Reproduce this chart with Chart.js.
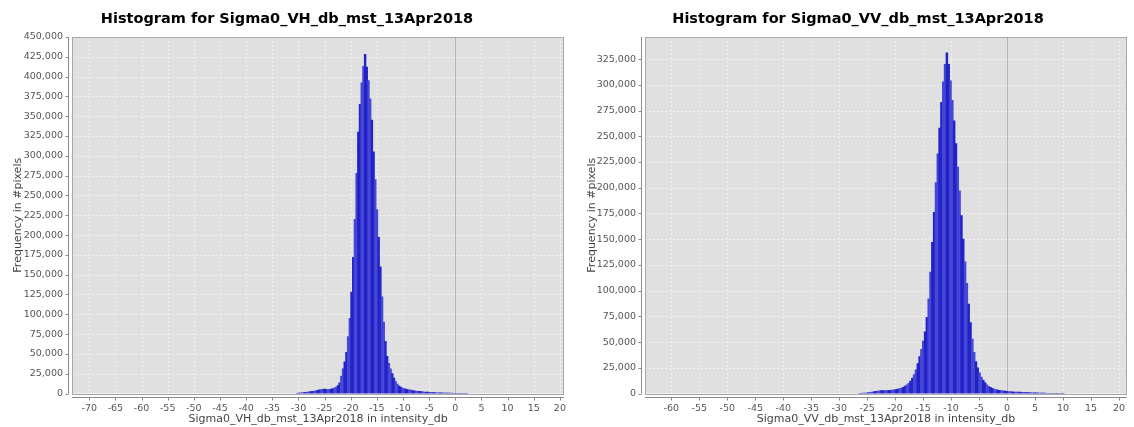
<!DOCTYPE html>
<html>
<head>
<meta charset="utf-8">
<script src="https://cdn.jsdelivr.net/npm/chart.js@4.4.1/dist/chart.umd.min.js"></script>
<style>
  body { margin: 0; background: #fff; }
  .box { position: absolute; top: 0; }
</style>
</head>
<body>
<div class="box" style="left:0px"><canvas id="vhChart" width="575" height="427"></canvas></div>
<div class="box" style="left:575px"><canvas id="vvChart" width="559" height="427"></canvas></div>
<script>
// histogram bins (dB), 0.325 dB wide, counts
const binWidth = 0.325;

const vhBinStart = -30.25;
const vhCounts = [
    300, 500, 700, 900, 1100, 1400, 1700, 2000, 2300, 2600,
    3000, 3500, 4000, 4500, 5000, 5300, 5500, 5200, 5000, 5200,
    5500, 6200, 7000, 8200, 10000, 13500, 22000, 31000, 40000, 52000,
    72000, 95000, 128000, 172000, 220000, 278000, 330000, 365000, 392000, 413000,
    428000, 412000, 395000, 372000, 345000, 305000, 270000, 232000, 197000, 160000,
    122000, 90000, 66000, 47000, 38000, 31000, 25000, 19500, 15000, 12000,
    9500, 8000, 6800, 6200, 5600, 5100, 4700, 4200, 3700, 3400,
    3100, 2800, 2600, 2300, 2100, 1950, 1800, 1650, 1500, 1350,
    1200, 1100, 1000, 950, 900, 800, 700, 650, 600, 520,
    450, 400, 350, 320, 300, 250, 200, 170, 150, 120,
    100
];

const vvBinStart = -26.35;
const vvCounts = [
    100, 200, 300, 400, 500, 800, 1100, 1450, 1800, 2100,
    2400, 2650, 2800, 2850, 2800, 2850, 3000, 3200, 3400, 3650,
    3900, 4300, 4700, 5300, 6100, 7200, 8500, 10000, 12000, 15000,
    18500, 23000, 29000, 36000, 43000, 51000, 60000, 74000, 92000, 118000,
    147000, 176000, 205000, 233000, 258000, 283000, 303000, 320000, 331000, 320000,
    304000, 285000, 265000, 243000, 220000, 197000, 173000, 150000, 128000, 107000,
    87000, 69000, 53000, 40000, 31000, 25000, 20000, 16000, 13000, 10500,
    8500, 7000, 5900, 5100, 4400, 3900, 3400, 3100, 2800, 2500,
    2300, 2100, 1900, 1750, 1600, 1500, 1400, 1350, 1300, 1200,
    1100, 1050, 1000, 950, 900, 750, 650, 600, 550, 480,
    400, 350, 300, 260, 220, 180, 150, 120, 100, 85,
    70, 60, 50
];

const vhXTicks = [-70, -65, -60, -55, -50, -45, -40, -35, -30, -25, -20, -15, -10, -5, 0, 5, 10, 15, 20];
const vvXTicks = [-60, -55, -50, -45, -40, -35, -30, -25, -20, -15, -10, -5, 0, 5, 10, 15, 20];
const vhYTicks = [0, 25000, 50000, 75000, 100000, 125000, 150000, 175000, 200000, 225000,
    250000, 275000, 300000, 325000, 350000, 375000, 400000, 425000, 450000];
const vvYTicks = [0, 25000, 50000, 75000, 100000, 125000, 150000, 175000, 200000, 225000,
    250000, 275000, 300000, 325000];

const barDark = '#2222c9';
const barLight = '#4747d6';
const plotBg = '#e0e0e0';

function toPoints(start, counts) {
    return counts.map((c, i) => ({ x: +(start + i * binWidth).toFixed(3), y: c }));
}

// plot background, dashed grid, zero line, frame and offset axis lines
const framePlugin = {
    id: 'frame',
    beforeDraw(chart) {
        const { ctx, chartArea: a, scales } = chart;
        ctx.save();
        ctx.fillStyle = plotBg;
        ctx.fillRect(a.left, a.top, a.right - a.left, a.bottom - a.top);
        ctx.strokeStyle = '#f2f2f2';
        ctx.lineWidth = 1;
        ctx.setLineDash([2, 2]);
        ctx.beginPath();
        scales.x.ticks.forEach(t => {
            const px = Math.round(scales.x.getPixelForValue(t.value)) + 0.5;
            ctx.moveTo(px, a.top); ctx.lineTo(px, a.bottom);
        });
        scales.y.ticks.forEach(t => {
            const py = Math.round(scales.y.getPixelForValue(t.value)) + 0.5;
            ctx.moveTo(a.left, py); ctx.lineTo(a.right, py);
        });
        ctx.stroke();
        ctx.setLineDash([]);
        const x0 = Math.round(scales.x.getPixelForValue(0)) + 0.5;
        ctx.strokeStyle = '#b4b4b4';
        ctx.beginPath();
        ctx.moveTo(x0, a.top);
        ctx.lineTo(x0, a.bottom);
        ctx.stroke();
        ctx.restore();
    },
    afterDraw(chart) {
        const { ctx, chartArea: a, scales } = chart;
        ctx.save();
        ctx.lineWidth = 1;
        ctx.strokeStyle = '#a8a8a8';
        ctx.strokeRect(Math.round(a.left) + 0.5, Math.round(a.top) + 0.5,
            Math.round(a.right - a.left) - 1, Math.round(a.bottom - a.top));
        ctx.strokeStyle = '#8c8c8c';
        const yb = Math.round(a.bottom) + 3.5;
        const xl = Math.round(a.left) - 3.5;
        ctx.beginPath();
        ctx.moveTo(a.left, yb); ctx.lineTo(a.right, yb);
        ctx.moveTo(xl, a.top); ctx.lineTo(xl, a.bottom);
        scales.x.ticks.forEach(t => {
            const px = Math.round(scales.x.getPixelForValue(t.value)) + 0.5;
            ctx.moveTo(px, yb); ctx.lineTo(px, yb + 3);
        });
        scales.y.ticks.forEach(t => {
            const py = Math.round(scales.y.getPixelForValue(t.value)) + 0.5;
            ctx.moveTo(xl, py); ctx.lineTo(xl - 3, py);
        });
        ctx.stroke();
        ctx.restore();
    }
};

function makeChart(id, title, xLabel, points, xTicks, yTicks, xMin, xMax, yMax, padLeft, padRight, yWidth, yTitlePad) {
    return new Chart(document.getElementById(id), {
        type: 'bar',
        data: {
            datasets: [{
                data: points,
                backgroundColor: ctx => Math.floor(ctx.dataIndex / 2) % 2 ? barLight : barDark,
                borderWidth: 0,
                barPercentage: 1,
                categoryPercentage: 1
            }]
        },
        options: {
            responsive: false,
            animation: false,
            layout: { padding: { left: padLeft, right: padRight, top: 0, bottom: 0 } },
            plugins: {
                legend: { display: false },
                tooltip: { enabled: false },
                title: {
                    display: true,
                    text: title,
                    color: '#000',
                    font: { family: 'DejaVu Sans', size: 14.5, weight: 'bold', lineHeight: 1.2 },
                    padding: { top: 10.3, bottom: 9.3 }
                }
            },
            scales: {
                x: {
                    type: 'linear',
                    min: xMin,
                    max: xMax,
                    offset: false,
                    afterBuildTicks: s => { s.ticks = xTicks.map(v => ({ value: v })); },
                    afterFit: s => { s.height = 33.5; },
                    border: { display: false },
                    grid: { display: false, drawTicks: false },
                    ticks: {
                        maxRotation: 0,
                        autoSkip: false,
                        padding: 9,
                        color: '#555',
                        font: { family: 'DejaVu Sans', size: 9.5 },
                        callback: v => String(v)
                    },
                    title: {
                        display: true,
                        text: xLabel,
                        color: '#444',
                        font: { family: 'DejaVu Sans', size: 11, lineHeight: 1.2 },
                        padding: { top: 0, bottom: 1.4 }
                    }
                },
                y: {
                    min: 0,
                    max: yMax,
                    afterBuildTicks: s => { s.ticks = yTicks.map(v => ({ value: v })); },
                    afterFit: s => { s.width = yWidth; },
                    border: { display: false },
                    grid: { display: false, drawTicks: false },
                    ticks: {
                        padding: 9,
                        color: '#555',
                        font: { family: 'DejaVu Sans', size: 9.5 },
                        callback: v => v.toLocaleString('en-US')
                    },
                    title: {
                        display: true,
                        text: 'Frequency in #pixels',
                        color: '#444',
                        font: { family: 'DejaVu Sans', size: 11, lineHeight: 1.2 },
                        padding: { top: yTitlePad, bottom: 0 }
                    }
                }
            }
        },
        plugins: [framePlugin]
    });
}

makeChart('vhChart', 'Histogram for Sigma0_VH_db_mst_13Apr2018',
    'Sigma0_VH_db_mst_13Apr2018 in intensity_db',
    toPoints(vhBinStart, vhCounts), vhXTicks, vhYTicks, -73.3, 20.8, 450000, 7, 8, 65, 4.4);

makeChart('vvChart', 'Histogram for Sigma0_VV_db_mst_13Apr2018',
    'Sigma0_VV_db_mst_13Apr2018 in intensity_db',
    toPoints(vvBinStart, vvCounts), vvXTicks, vvYTicks, -64.7, 21.4, 346500, 8, 1, 62, 2.4);
</script>
</body>
</html>
